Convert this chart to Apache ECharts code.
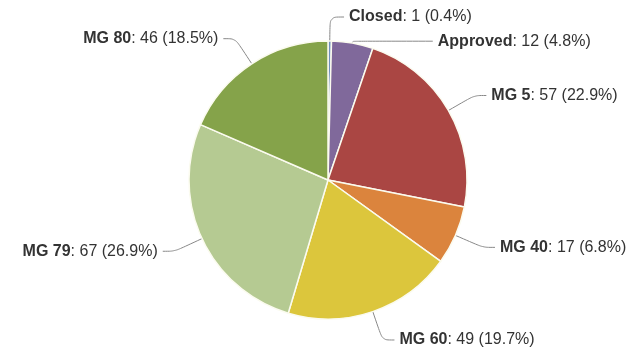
<!DOCTYPE html>
<html>
<head>
<meta charset="utf-8">
<script src="https://cdn.jsdelivr.net/npm/echarts@6/dist/echarts.min.js"></script>
<style>
  html, body { margin: 0; padding: 0; background: #fff; }
  #chart { width: 633px; height: 351px; }
</style>
</head>
<body>
<div id="chart"></div>
<script>
var names = ['Closed', 'Approved', 'MG 5', 'MG 40', 'MG 60', 'MG 79', 'MG 80'];
var values = [1, 12, 57, 17, 49, 67, 46];
var colors = ['#6f8fbf', '#80699b', '#aa4643', '#db843d', '#dcc63c', '#b5ca92', '#85a34a'];

function buildData() {
  var res = [];
  for (let i = 0; i < names.length; i++) {
    var item = { name: names[i], value: values[i], itemStyle: { color: colors[i] } };
    if (names[i] == 'Approved') {
      // pushed down and right like the original connector
      item.labelLine = { length: 2, length2: 80 };
    } else if (names[i] == 'Closed') {
      item.labelLine = { length: 24, length2: 14 };
    }
    res.push(item);
  }
  return res;
}

var font = 'Liberation Sans, Arial, sans-serif';
var chart = echarts.init(document.getElementById('chart'));
chart.setOption({
  animation: false,
  series: [{
    type: 'pie',
    center: [328, 180],
    radius: [0, 139],
    startAngle: 90,
    clockwise: true,
    percentPrecision: 1,
    avoidLabelOverlap: true,
    itemStyle: { borderColor: '#fbfbef', borderWidth: 1.5 },
    label: {
      show: true,
      position: 'outside',
      overflow: 'none',
      color: '#333',
      fontFamily: font,
      fontSize: 16,
      formatter: '{n|{b}}: {c} ({d}%)',
      rich: {
        n: { fontWeight: 'bold', color: '#333', fontSize: 16, fontFamily: font }
      }
    },
    labelLine: {
      show: true,
      length: 30,
      length2: 12,
      smooth: 0.3,
      lineStyle: { color: '#888', width: 1 }
    },
    data: buildData()
  }]
});
</script>
</body>
</html>
